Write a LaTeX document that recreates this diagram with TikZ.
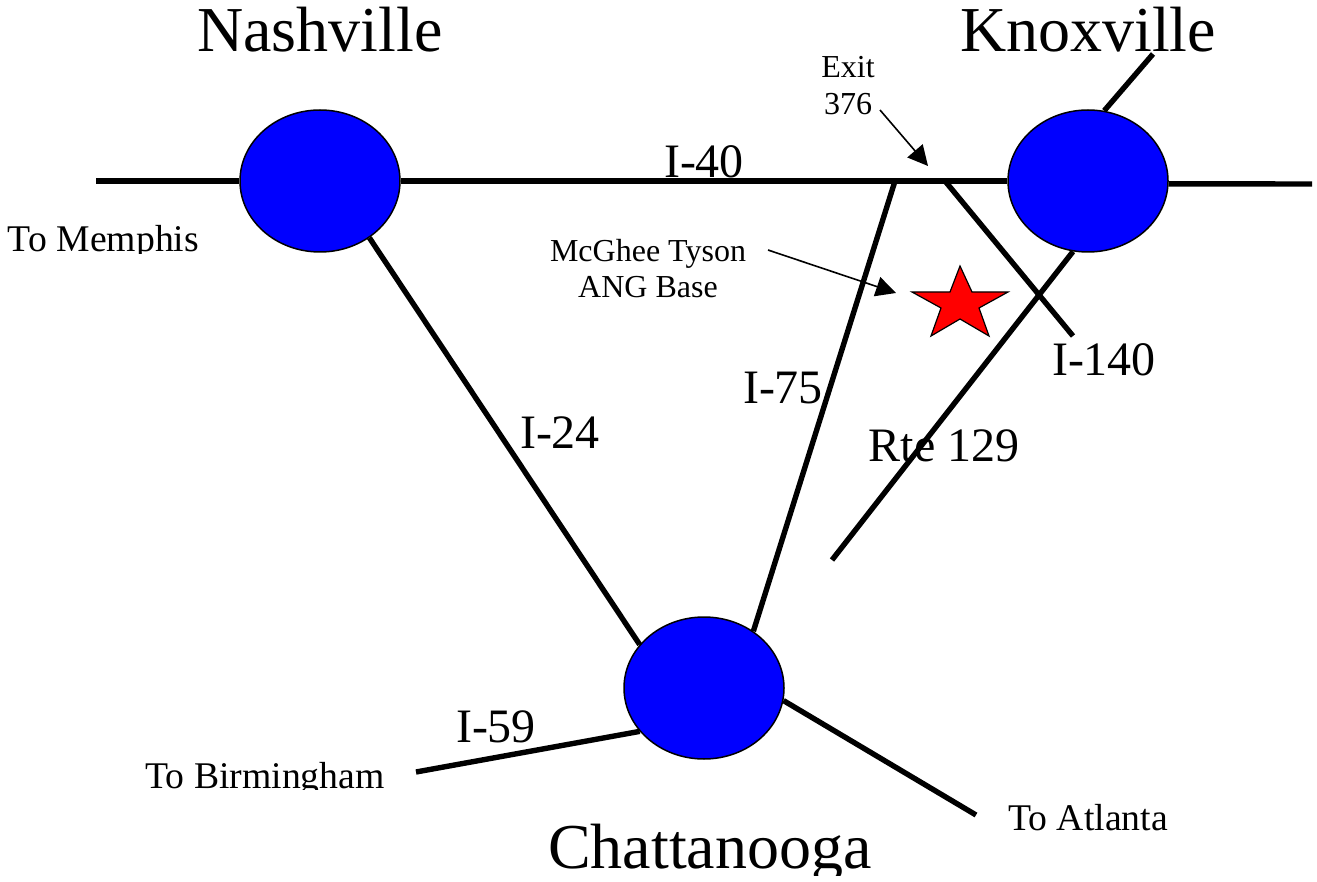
\documentclass[tikz,border=0pt]{standalone}
\usepackage{fontspec}
\setmainfont{Liberation Serif}
\usetikzlibrary{shapes.geometric,arrows.meta}
\tikzset{
  x=1pt,y=-1pt,
  city/.style={ellipse,draw=black,line width=1.5pt,fill=blue,minimum width=160pt,minimum height=142pt,inner sep=0pt},
  road/.style={line width=5.4pt,draw=black},
  pointer/.style={line width=1.6pt,draw=black,-{Triangle[length=20pt,width=20pt]}},
  lbl/.style={anchor=base,inner sep=0pt,text=black},
  big/.style={lbl,font=\fontsize{64}{64}\selectfont},
  mid/.style={lbl,font=\fontsize{48}{48}\selectfont},
  small/.style={lbl,font=\fontsize{37.7}{37.7}\selectfont},
  tiny/.style={lbl,font=\fontsize{32}{32}\selectfont},
}
\begin{document}
\begin{tikzpicture}
\useasboundingbox (0,0) rectangle (1317,882);
\fill[white] (0,0) rectangle (1317,882);
% cities
\node[city] (nash) at (320,181) {};
\node[city] (know) at (1088,181) {};
\node[city] (chatt) at (704,688) {};
% free ends and junctions
\coordinate (memphisEnd) at (96,181);
\coordinate (eastEnd) at (1312,184);
\coordinate (northEnd) at (1153,54);
\coordinate (j75) at (895,181);
\coordinate (j140) at (945,181);
\coordinate (end140) at (1073,336);
\coordinate (end129) at (832,560);
\coordinate (end59) at (416,772);
\coordinate (endAtl) at (976,815);
\coordinate (exitFrom) at (880,110);
\coordinate (exitTo) at (928,166);
\coordinate (baseFrom) at (768,250);
\coordinate (baseTo) at (896,293);
% roads
\draw[road] (memphisEnd) -- (nash.180);
\draw[road] (nash.0) -- (know.180);
\draw[road] (know.-2) -- (eastEnd);
\draw[road] (know.77.6) -- (northEnd);
\draw[road] (nash.-49) -- (chatt.146.7);
\draw[road] (chatt.49.4) -- (j75);
\draw[road] (know.-102.3) -- (end129);
\draw[road] (j140) -- (end140);
\draw[road] (chatt.-146.7) -- (end59);
\draw[road] (chatt.-9.2) -- (endAtl);
% pointers
\draw[pointer] (exitFrom) -- (exitTo);
\draw[pointer] (baseFrom) -- (baseTo);
% star
\draw[fill=red,draw=black,line width=1.2pt,line join=miter]
  (960,266) -- (972,292) -- (1008,292) -- (979,308) -- (989,336) -- (960,319)
  -- (931,336) -- (941,308) -- (912,292) -- (950,292) -- cycle;
% labels
\node[big] (lnash) at (320,52) {Nashville};
\node[big] (lknox) at (1088,52) {Knoxville};
\begin{scope}
  \clip (500,790) rectangle (900,875);
  \node[big] (lchatt) at (710,868) {Chattanooga};
\end{scope}
\node[mid] (l40) at (704,178) {I-40};
\node[mid] (l24) at (560,448) {I-24};
\node[mid] (l75) at (783,403.5) {I-75};
\node[mid] (l140) at (1104,375.5) {I-140};
\node[mid] (l129) at (944,461) {Rte 129};
\node[mid] (l59) at (496,742) {I-59};
\begin{scope}
  \clip (0,210) rectangle (230,254);
  \node[small] (lmem) at (103.5,252) {To Memphis};
\end{scope}
\begin{scope}
  \clip (130,750) rectangle (400,789);
  \node[small] (lbir) at (265,788) {To Birmingham};
\end{scope}
\node[small] (latl) at (1088,830) {To Atlanta};
\node[tiny] (lexit) at (848,78) {Exit};
\node[tiny] (l376) at (848,115) {376};
\node[tiny] (lmcg) at (648,262) {McGhee Tyson};
\node[tiny] (lang) at (648,298) {ANG Base};
\end{tikzpicture}
\end{document}
